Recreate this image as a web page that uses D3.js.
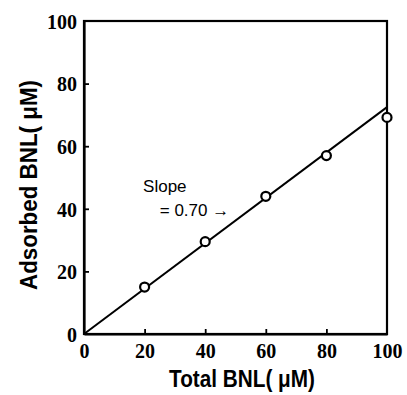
<!DOCTYPE html>
<html>
<head>
<meta charset="utf-8">
<script src="https://cdn.jsdelivr.net/npm/d3@7"></script>
<style>
  body { margin: 0; background: #fff; }
  svg { display: block; }
  .tick text { font-family: "Liberation Serif", "Times New Roman", serif; font-weight: bold; font-size: 20px; }
</style>
</head>
<body>
<svg width="407" height="395"></svg>
<script>
// values
const totalBNL = [20, 40, 60, 80, 100];
const adsorbedBNL = [15, 29.5, 44, 57, 69.2];
const fitLine = [[0, 0], [100, 72.5]];
const tickValues = [0, 20, 40, 60, 80, 100];

const margin = { top: 21, right: 20, bottom: 61, left: 84 };
const width = 407 - margin.left - margin.right;
const height = 395 - margin.top - margin.bottom;

const svg = d3.select('svg');
const g = svg.append('g').attr('transform', `translate(${margin.left},${margin.top})`);

const x = d3.scaleLinear().domain([0, 100]).range([0, width]);
const y = d3.scaleLinear().domain([0, 100]).range([height, 0]);

// frame
g.append('rect')
  .attr('width', width)
  .attr('height', height)
  .attr('fill', 'none')
  .attr('stroke', '#000')
  .attr('stroke-width', 2.2);

// axes, ticks inward
const xAxis = g.append('g')
  .attr('transform', `translate(0,${height})`)
  .call(d3.axisBottom(x).tickValues(tickValues).tickSizeInner(-5).tickSizeOuter(0).tickPadding(10));
const yAxis = g.append('g')
  .call(d3.axisLeft(y).tickValues(tickValues).tickSizeInner(-5).tickSizeOuter(0).tickPadding(7));
[xAxis, yAxis].forEach((a) => {
  a.select('.domain').attr('stroke-width', 2.2);
  a.selectAll('.tick line').attr('stroke-width', 1.8);
  a.selectAll('.tick').filter((d) => d === 0 || d === 100).select('line').remove();
});
yAxis.selectAll('.tick text').attr('dy', '0.36em');

// fitted line
const line = d3.line().x((d) => x(d[0])).y((d) => y(d[1]));
g.append('path')
  .datum(fitLine)
  .attr('d', line)
  .attr('fill', 'none')
  .attr('stroke', '#000')
  .attr('stroke-width', 2);

// points
g.selectAll('circle')
  .data(totalBNL)
  .enter()
  .append('circle')
  .attr('cx', (d) => x(d))
  .attr('cy', (d, i) => y(adsorbedBNL[i]))
  .attr('r', 4.5)
  .attr('fill', '#fff')
  .attr('stroke', '#000')
  .attr('stroke-width', 2.2);

// annotation
const ann = g.append('g')
  .attr('font-family', '"Liberation Sans", Arial, sans-serif')
  .attr('font-size', 17)
  .attr('fill', '#000');
ann.append('text').attr('x', x(19.5)).attr('y', y(45.5)).text('Slope');
ann.append('text').attr('x', x(25)).attr('y', y(37.7)).text('= 0.70 →');

// axis titles
svg.append('text')
  .attr('x', 242)
  .attr('y', 387)
  .attr('text-anchor', 'middle')
  .attr('font-family', '"Liberation Sans", Arial, sans-serif')
  .attr('font-weight', 'bold')
  .attr('font-size', 24)
  .attr('textLength', 146)
  .attr('lengthAdjust', 'spacingAndGlyphs')
  .text('Total BNL( μM)');

svg.append('text')
  .attr('transform', 'translate(37,185) rotate(-90)')
  .attr('text-anchor', 'middle')
  .attr('font-family', '"Liberation Sans", Arial, sans-serif')
  .attr('font-weight', 'bold')
  .attr('font-size', 23)
  .attr('textLength', 210)
  .attr('lengthAdjust', 'spacingAndGlyphs')
  .text('Adsorbed BNL( μM)');
</script>
</body>
</html>
